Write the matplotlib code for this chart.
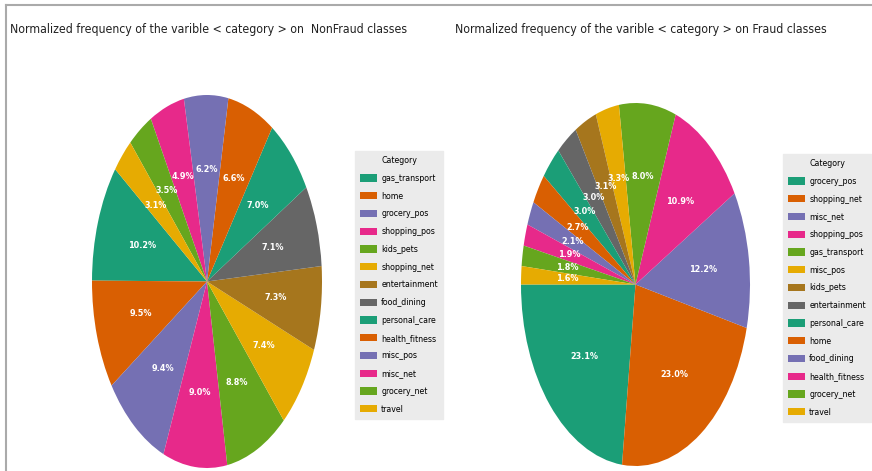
import matplotlib
matplotlib.use("Agg")
import matplotlib.pyplot as plt
from matplotlib.lines import Line2D
from matplotlib import font_manager as fm

nonfraud_categories = ["gas_transport", "home", "grocery_pos", "shopping_pos", "kids_pets",
                       "shopping_net", "entertainment", "food_dining", "personal_care",
                       "health_fitness", "misc_pos", "misc_net", "grocery_net", "travel"]
nonfraud_values = [10.2, 9.5, 9.4, 9.0, 8.8, 7.4, 7.3, 7.1, 7.0, 6.6, 6.2, 4.9, 3.5, 3.1]

fraud_categories = ["grocery_pos", "shopping_net", "misc_net", "shopping_pos", "gas_transport",
                    "misc_pos", "kids_pets", "entertainment", "personal_care", "home",
                    "food_dining", "health_fitness", "grocery_net", "travel"]
fraud_values = [23.12, 23.02, 12.22, 10.92, 8.02, 3.32, 3.12, 3.02, 3.02, 2.72, 2.12, 1.92, 1.82, 1.62]

titles = ["Normalized frequency of the varible < category > on  NonFraud classes",
          "Normalized frequency of the varible < category > on Fraud classes"]

dark2 = ["#1b9e77", "#d95f02", "#7570b3", "#e7298a", "#66a61e", "#e6ab02", "#a6761d", "#666666"]
colors = [dark2[i % 8] for i in range(14)]

W, H = 872, 471
fig = plt.figure(figsize=(W / 100, H / 100), dpi=100)

def fr(x0, y0, x1, y1):
    return [x0 / W, 1 - y1 / H, (x1 - x0) / W, (y1 - y0) / H]

def fp(size, weight="normal"):
    return fm.FontProperties(family="DejaVu Sans", stretch="condensed", size=size, weight=weight)

specs = [
    (nonfraud_categories, nonfraud_values, fr(92, 95, 322, 468), 143, (355 / W, 1 - 151 / H), 10),
    (fraud_categories, fraud_values, fr(521, 103, 750, 466), 180, (783 / W, 1 - 154 / H), 455),
]

for k, (cats, vals, pos, start, legpos, tx) in enumerate(specs):
    ax = fig.add_axes(pos)
    wedges, texts, autotexts = ax.pie(vals, colors=colors, startangle=start,
                                      autopct="%1.1f%%", pctdistance=0.6)
    for t in autotexts:
        t.set_color("white")
        t.set_fontproperties(fp(6.5, "bold"))
    ax.set_aspect("auto")
    ax.set_xlim(-1, 1)
    ax.set_ylim(-1, 1)
    leg = fig.legend(wedges, cats, title="Category", loc="upper left",
                     bbox_to_anchor=legpos, prop=fp(6.3), title_fontproperties=fp(6.3),
                     frameon=True, fancybox=False, facecolor="#ebebeb",
                     edgecolor="#ebebeb", framealpha=1, labelspacing=1.0,
                     handlelength=1.9, handleheight=0.9, handletextpad=0.5,
                     borderpad=0.6, borderaxespad=0)
    fig.text(tx / W, 1 - 30 / H, titles[k], fontproperties=fp(8.8),
             ha="left", va="center", color="#222222")

fig.lines.append(Line2D([6 / W, 6 / W], [0, 1 - 5 / H], transform=fig.transFigure,
                        color="#aaaaaa", linewidth=1.5))
fig.lines.append(Line2D([6 / W, 1], [1 - 5 / H, 1 - 5 / H], transform=fig.transFigure,
                        color="#aaaaaa", linewidth=1.5))

fig.savefig("out.png", dpi=100)
